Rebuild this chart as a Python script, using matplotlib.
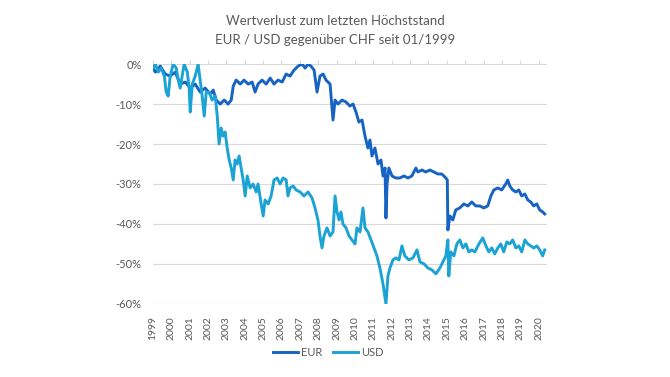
import matplotlib
matplotlib.use("Agg")
import matplotlib.pyplot as plt

plt.rcParams["font.family"] = ["Lato", "DejaVu Sans"]

# values (year as decimal, loss vs last high in %)
eur_years = [1999.00, 1999.14, 1999.41, 1999.68, 1999.95, 2000.22, 2000.49, 2000.77, 2001.04, 2001.31,
             2001.58, 2001.85, 2002.13, 2002.29, 2002.45, 2002.67, 2002.89, 2003.10, 2003.27, 2003.38,
             2003.54, 2003.76, 2003.97, 2004.19, 2004.41, 2004.57, 2004.73, 2004.95, 2005.17, 2005.39,
             2005.60, 2005.82, 2006.04, 2006.26, 2006.47, 2006.69, 2006.91, 2007.13, 2007.29, 2007.45,
             2007.61, 2007.78, 2007.94, 2008.10, 2008.27, 2008.43, 2008.65, 2008.81, 2008.92, 2009.08,
             2009.30, 2009.52, 2009.73, 2009.90, 2010.06, 2010.22, 2010.39, 2010.55, 2010.71, 2010.82,
             2010.93, 2011.09, 2011.26, 2011.42, 2011.53, 2011.64, 2011.69, 2011.75, 2011.85, 2012.02,
             2012.23, 2012.45, 2012.67, 2012.89, 2013.10, 2013.32, 2013.43, 2013.65, 2013.86, 2014.08,
             2014.30, 2014.52, 2014.73, 2014.95, 2015.03, 2015.06, 2015.17, 2015.33, 2015.49, 2015.71,
             2015.93, 2016.15, 2016.36, 2016.58, 2016.80, 2017.02, 2017.23, 2017.40, 2017.56, 2017.78,
             2017.99, 2018.21, 2018.32, 2018.43, 2018.59, 2018.76, 2018.92, 2019.08, 2019.25, 2019.41,
             2019.57, 2019.73, 2019.90, 2020.06, 2020.22, 2020.33]
eur_loss = [-1, -2, -0.5, -2.5, -3, -2, -5, -4.5, -6, -5,
            -7, -6, -7.5, -6.5, -9, -10, -9, -10, -9, -5.5,
            -4, -5, -4, -5, -4.5, -7, -5, -4, -5, -3.5,
            -5, -4, -4.5, -2.5, -3, -1.5, -0.5, 0, -1, 0,
            -0.5, -1.5, -7, -3, -2.5, -4, -5, -14, -9, -10,
            -9, -9.5, -10.5, -10, -12, -14.5, -14, -18, -21, -19,
            -23, -21, -25, -24, -28, -26, -38.5, -30, -26, -28,
            -28.5, -28.5, -28, -28.5, -28, -26, -27, -26.5, -27, -26.5,
            -27, -27.5, -27.5, -28.5, -29, -41.5, -38, -39, -36.5, -36,
            -35, -35.5, -34.5, -35.5, -35.5, -36, -35.5, -33, -31.5, -31,
            -31.5, -30, -29, -30.5, -31.5, -32, -31.5, -33, -32.5, -34,
            -34.5, -35.5, -35, -36.5, -37, -37.5]

usd_years = [1999.00, 1999.14, 1999.30, 1999.46, 1999.63, 1999.73, 1999.84, 1999.95, 2000.11, 2000.28,
             2000.39, 2000.49, 2000.60, 2000.71, 2000.88, 2000.98, 2001.04, 2001.15, 2001.31, 2001.47,
             2001.58, 2001.69, 2001.80, 2001.91, 2002.07, 2002.23, 2002.40, 2002.51, 2002.61, 2002.72,
             2002.83, 2002.94, 2003.05, 2003.16, 2003.27, 2003.38, 2003.48, 2003.59, 2003.70, 2003.81,
             2003.92, 2004.03, 2004.14, 2004.30, 2004.46, 2004.63, 2004.73, 2004.90, 2005.01, 2005.11,
             2005.28, 2005.44, 2005.60, 2005.77, 2005.93, 2006.09, 2006.26, 2006.36, 2006.47, 2006.64,
             2006.80, 2007.02, 2007.23, 2007.45, 2007.67, 2007.83, 2007.99, 2008.10, 2008.21, 2008.32,
             2008.48, 2008.65, 2008.81, 2008.92, 2009.03, 2009.14, 2009.24, 2009.35, 2009.52, 2009.68,
             2009.84, 2010.01, 2010.11, 2010.28, 2010.44, 2010.55, 2010.71, 2010.88, 2011.04, 2011.20,
             2011.36, 2011.53, 2011.69, 2011.80, 2011.91, 2012.07, 2012.23, 2012.40, 2012.56, 2012.72,
             2012.94, 2013.16, 2013.38, 2013.54, 2013.76, 2013.97, 2014.19, 2014.41, 2014.63, 2014.79,
             2014.95, 2015.06, 2015.11, 2015.22, 2015.39, 2015.55, 2015.71, 2015.88, 2016.04, 2016.20,
             2016.36, 2016.53, 2016.75, 2016.96, 2017.13, 2017.29, 2017.45, 2017.61, 2017.78, 2017.94,
             2018.10, 2018.27, 2018.43, 2018.59, 2018.76, 2018.92, 2019.08, 2019.25, 2019.41, 2019.57,
             2019.73, 2019.90, 2020.06, 2020.22, 2020.33]
usd_loss = [-1, 0, -2, -1, -3, -7, -8, -3, 0, -1,
            -4, -6, -3, 0, -2, -6, -12, -5, -3, 0,
            -4, -8, -13, -7, -7, -9, -8, -13, -20, -16,
            -18, -17, -21, -24, -26, -29, -24, -25, -23, -26,
            -29, -33, -28, -31, -30, -32, -30, -35, -38, -34,
            -35, -33, -29, -28.5, -30, -28.5, -29, -33, -31, -30.5,
            -31.5, -32, -33, -32, -33.5, -36, -39, -43, -46, -43,
            -41, -43, -42, -33, -37, -39, -37, -40, -41, -43,
            -44, -45, -41, -42, -36, -41, -42, -44, -46, -48,
            -51, -55, -60, -53, -51, -49, -48.5, -49, -45.5, -48,
            -49, -48.5, -46.5, -49.5, -50, -51, -51.5, -52.5, -51, -49.5,
            -48, -44, -53, -47, -48, -45, -44, -46, -45, -47,
            -46.5, -47, -45, -43.5, -45.5, -47, -46, -47.5, -46, -45,
            -47, -44.5, -45, -44, -46, -45.5, -47, -44, -45, -45.5,
            -46, -45.5, -46.5, -48, -46.5]

year_ticks = list(range(1999, 2021))
pct_ticks = [0, -10, -20, -30, -40, -50, -60]

eur_color = "#1763c4"
usd_color = "#1aa3d4"
text_color = "#595959"

fig = plt.figure(figsize=(6.7, 3.77), dpi=100)
ax = fig.add_axes([0.228, 0.194, 0.588, 0.636])

ax.plot(eur_years, eur_loss, color=eur_color, lw=2.1, label="EUR")
ax.plot(usd_years, usd_loss, color=usd_color, lw=2.1, label="USD")

ax.set_xlim(1999, 2020.44)
ax.set_ylim(-60, 0)

ax.set_yticks(pct_ticks)
ax.set_yticklabels([f"{v}%" for v in pct_ticks])
ax.set_xticks(year_ticks)
ax.set_xticklabels([str(y) for y in year_ticks], rotation=90)

ax.grid(axis="y", color="#d9d9d9", lw=0.8)
ax.set_axisbelow(True)
for s in ax.spines.values():
    s.set_visible(False)

ax.tick_params(axis="y", length=0, pad=8, labelsize=8, labelcolor=text_color)
ax.tick_params(axis="x", top=True, bottom=False, labeltop=False, labelbottom=True,
               direction="out", length=3, color="#d9d9d9", pad=6,
               labelsize=7.5, labelcolor=text_color)

fig.text(0.5, 0.945, "Wertverlust zum letzten Höchststand", ha="center", va="center",
         fontsize=9.5, color=text_color)
fig.text(0.5, 0.895, "EUR / USD gegenüber CHF seit 01/1999", ha="center", va="center",
         fontsize=9.5, color=text_color)

fig.legend(loc="center", bbox_to_anchor=(0.49, 0.066), ncol=2, frameon=False,
           fontsize=8, handlelength=2.2, columnspacing=1.0, handletextpad=0.3,
           labelcolor=text_color)

fig.savefig("out.png", dpi=100)
